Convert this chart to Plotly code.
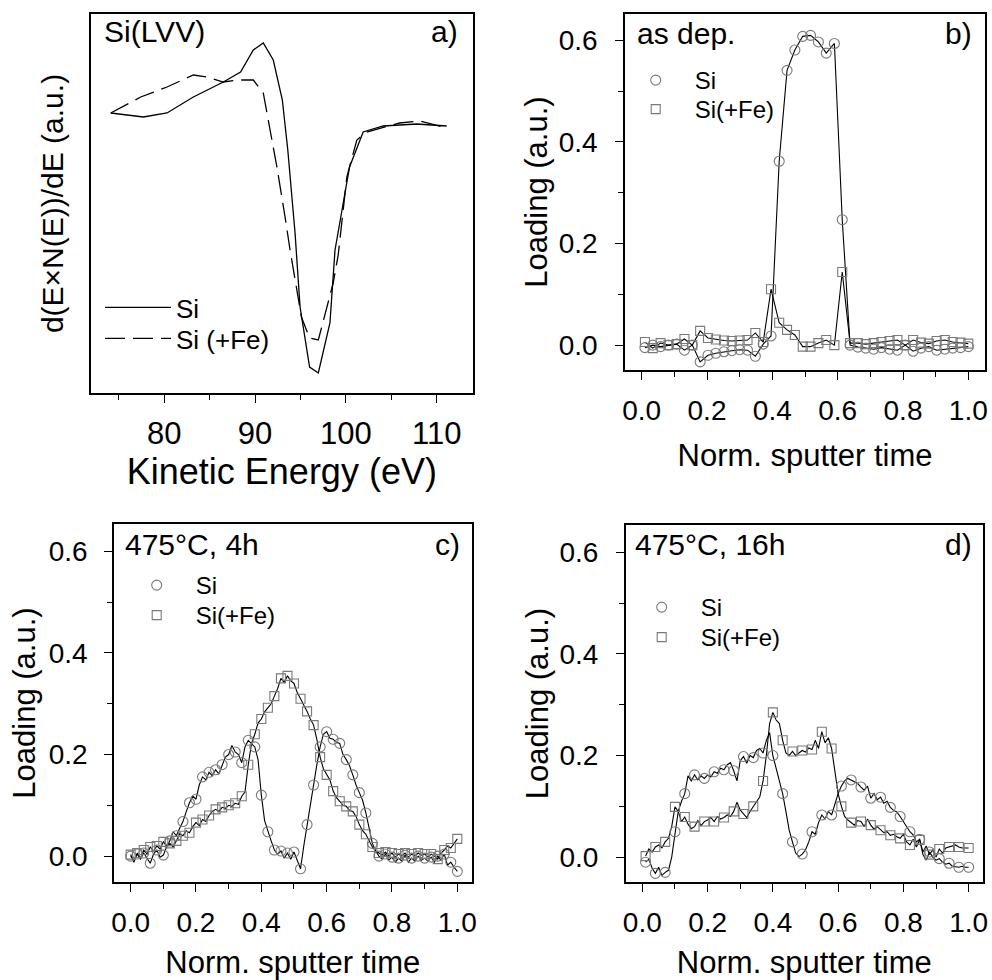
import plotly.graph_objects as go

# ---------------- data ----------------
# panel a: Auger Si(LVV) derivative spectra (arbitrary units)
a_si_E = [74.1, 77.7, 80.3, 83.2, 86.5, 88.4, 89.8, 90.9, 92.0, 93.0, 93.6, 94.4, 94.95, 96.0, 96.96, 98.24, 98.8, 100.4, 101.9, 104.1, 107.8, 111.1]
a_si_y = [2.80, 2.76, 2.80, 2.96, 3.11, 3.21, 3.43, 3.50, 3.33, 2.93, 2.43, 1.60, 0.86, 0.26, 0.20, 0.70, 1.43, 2.26, 2.61, 2.67, 2.69, 2.67]
a_fe_E = [74.1, 77.4, 80.3, 83.2, 84.7, 86.5, 88.0, 89.8, 90.9, 91.6, 92.4, 93.3, 93.85, 95.1, 96.0, 96.96, 98.6, 99.15, 100.1, 101.2, 102.3, 105.9, 108.1, 111.1]
a_fe_y = [2.80, 2.96, 3.06, 3.18, 3.16, 3.11, 3.13, 3.13, 3.00, 2.66, 2.26, 1.76, 1.43, 0.76, 0.55, 0.53, 1.10, 1.38, 2.16, 2.53, 2.61, 2.70, 2.72, 2.65]

# panel b: as deposited
b_t = [0.010, 0.034, 0.058, 0.082, 0.107, 0.131, 0.155, 0.179, 0.203, 0.227, 0.252, 0.276, 0.300, 0.324,
       0.348, 0.372, 0.396, 0.421, 0.445, 0.469, 0.493, 0.517, 0.541, 0.565, 0.590, 0.614, 0.638, 0.662,
       0.686, 0.710, 0.734, 0.759, 0.783, 0.807, 0.831, 0.855, 0.879, 0.903, 0.928, 0.952, 0.976, 1.000]
b_si = [-0.005, 0.000, -0.003, 0.000, 0.002, -0.010, 0.000, -0.033, -0.020, -0.016, -0.013, -0.011, -0.009, -0.010,
        -0.022, 0.002, 0.018, 0.362, 0.541, 0.581, 0.608, 0.610, 0.597, 0.575, 0.594, 0.247, 0.000, -0.004,
        -0.006, -0.008, -0.005, -0.008, -0.010, 0.000, -0.012, -0.006, -0.003, -0.010, -0.008, -0.006, -0.005, -0.003]
b_fe = [0.006, -0.006, 0.004, 0.000, 0.002, 0.012, 0.000, 0.028, 0.014, 0.011, 0.009, 0.008, 0.009, 0.010,
        0.024, 0.006, 0.110, 0.044, 0.030, 0.020, -0.003, -0.003, 0.004, 0.010, 0.000, 0.144, 0.004, 0.004,
        0.002, 0.004, 0.006, 0.008, 0.010, 0.000, 0.010, 0.005, 0.003, 0.008, 0.010, 0.006, 0.005, 0.003]

# panel c: 475 C, 4 h
c_t = [0.00, 0.01, 0.02, 0.03, 0.04, 0.05, 0.06, 0.07, 0.08, 0.09, 0.10, 0.11, 0.12, 0.13, 0.14, 0.15, 0.16,
       0.17, 0.18, 0.19, 0.20, 0.21, 0.22, 0.23, 0.24, 0.25, 0.26, 0.27, 0.28, 0.29, 0.30, 0.31, 0.32, 0.33,
       0.34, 0.35, 0.36, 0.37, 0.38, 0.39, 0.40, 0.41, 0.42, 0.43, 0.44, 0.45, 0.46, 0.47, 0.48, 0.49, 0.50,
       0.51, 0.52, 0.53, 0.54, 0.55, 0.56, 0.57, 0.58, 0.59, 0.60, 0.61, 0.62, 0.63, 0.64, 0.65, 0.66, 0.67,
       0.68, 0.69, 0.70, 0.71, 0.72, 0.73, 0.74, 0.75, 0.76, 0.77, 0.78, 0.79, 0.80, 0.81, 0.82, 0.83, 0.84,
       0.85, 0.86, 0.87, 0.88, 0.89, 0.90, 0.91, 0.92, 0.93, 0.94, 0.95, 0.96, 0.97, 0.98, 0.99, 1.00]
c_si = [0.000, -0.008, 0.004, -0.006, 0.006, -0.004, -0.014, 0.004, 0.012, -0.002, 0.002, 0.018, 0.030, 0.048,
        0.040, 0.055, 0.068, 0.087, 0.105, 0.118, 0.112, 0.140, 0.156, 0.150, 0.165, 0.158, 0.170, 0.162, 0.180,
        0.195, 0.200, 0.218, 0.205, 0.200, 0.184, 0.215, 0.228, 0.222, 0.215, 0.190, 0.120, 0.070, 0.048, 0.030,
        0.012, 0.004, 0.010, -0.004, 0.006, -0.006, 0.008, -0.008, -0.025, 0.020, 0.062, 0.100, 0.140, 0.180,
        0.215, 0.240, 0.245, 0.232, 0.230, 0.224, 0.222, 0.200, 0.190, 0.178, 0.160, 0.140, 0.125, 0.110, 0.085,
        0.055, 0.025, 0.010, 0.000, -0.006, 0.004, -0.008, -0.002, -0.012, -0.004, -0.010, 0.002, -0.012, -0.004,
        -0.010, 0.000, -0.008, -0.004, -0.010, -0.002, -0.012, 0.000, -0.008, 0.004, -0.018, -0.012, -0.022, -0.030]
c_fe = [0.003, -0.012, 0.006, -0.004, 0.012, 0.004, 0.018, 0.010, 0.020, 0.014, 0.028, 0.020, 0.025, 0.018,
        0.030, 0.044, 0.040, 0.050, 0.046, 0.058, 0.066, 0.060, 0.072, 0.068, 0.080, 0.088, 0.092, 0.088, 0.096,
        0.094, 0.100, 0.098, 0.104, 0.102, 0.118, 0.126, 0.180, 0.222, 0.240, 0.262, 0.270, 0.284, 0.292, 0.300,
        0.315, 0.330, 0.350, 0.342, 0.355, 0.345, 0.340, 0.322, 0.310, 0.298, 0.285, 0.270, 0.258, 0.230, 0.195,
        0.172, 0.160, 0.150, 0.128, 0.115, 0.108, 0.100, 0.098, 0.090, 0.088, 0.078, 0.062, 0.050, 0.043, 0.030,
        0.018, 0.010, 0.006, 0.002, 0.008, 0.000, 0.006, -0.002, 0.004, 0.000, 0.006, -0.002, 0.004, 0.000,
        0.006, 0.002, 0.004, -0.002, 0.004, 0.000, -0.006, 0.006, 0.012, 0.020, 0.016, 0.026, 0.034]

# panel d: 475 C, 16 h
d_t = [0.01, 0.02, 0.03, 0.04, 0.05, 0.06, 0.07, 0.08, 0.09, 0.10, 0.11, 0.12, 0.13, 0.14, 0.15, 0.16,
       0.17, 0.18, 0.19, 0.20, 0.21, 0.22, 0.23, 0.24, 0.25, 0.26, 0.27, 0.28, 0.29, 0.30, 0.31, 0.32, 0.33,
       0.34, 0.35, 0.36, 0.37, 0.38, 0.39, 0.40, 0.41, 0.42, 0.43, 0.44, 0.45, 0.46, 0.47, 0.48, 0.49, 0.50,
       0.51, 0.52, 0.53, 0.54, 0.55, 0.56, 0.57, 0.58, 0.59, 0.60, 0.61, 0.62, 0.63, 0.64, 0.65, 0.66, 0.67,
       0.68, 0.69, 0.70, 0.71, 0.72, 0.73, 0.74, 0.75, 0.76, 0.77, 0.78, 0.79, 0.80, 0.81, 0.82, 0.83, 0.84,
       0.85, 0.86, 0.87, 0.88, 0.89, 0.90, 0.91, 0.92, 0.93, 0.94, 0.95, 0.96, 0.97, 0.98, 0.99, 1.00]
d_si = [-0.010, -0.004, -0.022, -0.032, -0.020, -0.036, -0.030, -0.026, 0.000, 0.050, 0.090, 0.110, 0.125,
        0.160, 0.150, 0.162, 0.152, 0.160, 0.155, 0.162, 0.158, 0.168, 0.165, 0.175, 0.172, 0.182, 0.186, 0.170,
        0.150, 0.190, 0.198, 0.185, 0.200, 0.196, 0.210, 0.214, 0.205, 0.230, 0.245, 0.200, 0.175, 0.150, 0.125,
        0.090, 0.053, 0.030, 0.008, 0.001, 0.006, 0.014, 0.030, 0.050, 0.045, 0.068, 0.083, 0.075, 0.090, 0.083,
        0.105, 0.125, 0.140, 0.150, 0.155, 0.152, 0.148, 0.145, 0.138, 0.132, 0.140, 0.116, 0.125, 0.113, 0.118,
        0.106, 0.110, 0.098, 0.092, 0.089, 0.080, 0.070, 0.062, 0.050, 0.044, 0.030, 0.035, 0.005, -0.006, 0.010,
        0.000, -0.006, -0.003, -0.010, -0.014, -0.012, -0.018, -0.019, -0.020, -0.018, -0.020, -0.020]
d_fe = [0.002, 0.016, 0.010, 0.020, 0.024, 0.018, 0.030, 0.037, 0.060, 0.099, 0.090, 0.070, 0.079, 0.065,
        0.056, 0.060, 0.072, 0.062, 0.070, 0.073, 0.078, 0.070, 0.080, 0.075, 0.078, 0.083, 0.080, 0.090, 0.108,
        0.093, 0.085, 0.078, 0.090, 0.100, 0.110, 0.119, 0.150, 0.200, 0.263, 0.285, 0.270, 0.263, 0.230, 0.205,
        0.200, 0.208, 0.200, 0.205, 0.210, 0.207, 0.215, 0.212, 0.230, 0.214, 0.247, 0.225, 0.235, 0.214, 0.170,
        0.125, 0.100, 0.080, 0.073, 0.068, 0.063, 0.072, 0.070, 0.060, 0.075, 0.063, 0.055, 0.060, 0.053, 0.048,
        0.050, 0.043, 0.045, 0.040, 0.037, 0.045, 0.030, 0.024, 0.035, 0.020, 0.034, 0.010, 0.022, 0.005, 0.014,
        0.000, 0.016, 0.008, 0.018, 0.020, 0.022, 0.024, 0.020, 0.018, 0.018, 0.018]

x_ticks_t = [0.0, 0.2, 0.4, 0.6, 0.8, 1.0]
x_ticklabels_t = ["0.0", "0.2", "0.4", "0.6", "0.8", "1.0"]
y_ticks = [0.0, 0.2, 0.4, 0.6]
y_ticklabels = ["0.0", "0.2", "0.4", "0.6"]
e_ticks = [80, 90, 100, 110]
e_ticklabels = ["80", "90", "100", "110"]

# ---------------- style ----------------
FONT = "Liberation Sans, Arial, Helvetica, sans-serif"
MK = "#7a7a7a"
W, H = 992, 980


def px_x(p):
    return p / W


def px_y(p):
    return 1 - p / H


fig = go.Figure()

# panel a
fig.add_trace(go.Scatter(x=a_si_E, y=a_si_y, mode="lines", name="Si",
                         line=dict(color="black", width=1.3), xaxis="x", yaxis="y", legend="legend"))
fig.add_trace(go.Scatter(x=a_fe_E, y=a_fe_y, mode="lines", name="Si (+Fe)",
                         line=dict(color="black", width=1.3, dash="20px,8px"), xaxis="x", yaxis="y",
                         legend="legend2"))


def add_panel(t_si, v_si, t_fe, v_fe, xa, ya, leg_si, leg_fe, step):
    fig.add_trace(go.Scatter(x=t_si, y=v_si, mode="lines", line=dict(color="black", width=1.1),
                             showlegend=False, xaxis=xa, yaxis=ya, hoverinfo="skip"))
    fig.add_trace(go.Scatter(x=t_fe, y=v_fe, mode="lines", line=dict(color="black", width=1.1),
                             showlegend=False, xaxis=xa, yaxis=ya, hoverinfo="skip"))
    fig.add_trace(go.Scatter(x=t_si[::step], y=v_si[::step], mode="markers", name="Si",
                             marker=dict(symbol="circle-open", size=10, color=MK, line=dict(width=1.1, color=MK)),
                             xaxis=xa, yaxis=ya, legend=leg_si))
    fig.add_trace(go.Scatter(x=t_fe[::step], y=v_fe[::step], mode="markers", name="Si(+Fe)",
                             marker=dict(symbol="square-open", size=9, color=MK, line=dict(width=1.1, color=MK)),
                             xaxis=xa, yaxis=ya, legend=leg_fe))


add_panel(b_t, b_si, b_t, b_fe, "x2", "y2", "legend3", "legend4", 1)
add_panel(c_t, c_si, c_t, c_fe, "x3", "y3", "legend5", "legend6", 2)
add_panel(d_t, d_si, d_t, d_fe, "x4", "y4", "legend7", "legend8", 3)

axis_common = dict(showline=True, linecolor="black", linewidth=1.5, mirror=True, showgrid=False,
                   zeroline=False, ticks="outside", tickcolor="black", tickwidth=1.3, ticklen=8,
                   automargin=False)

tfont_bd = dict(family=FONT, size=28, color="black")
title_bd = dict(family=FONT, size=31, color="black")
minor_t = dict(dtick=0.1, tick0=0, ticks="outside", ticklen=5, tickcolor="black", tickwidth=1.2)


def leg(xp, yp, size, iw):
    return dict(x=px_x(xp), y=px_y(yp), xanchor="left", yanchor="top", bgcolor="rgba(0,0,0,0)",
                font=dict(family=FONT, size=size, color="black"), itemwidth=iw, borderwidth=0)


layout = dict(
    width=W, height=H, margin=dict(l=0, r=0, t=0, b=0, autoexpand=False),
    paper_bgcolor="white", plot_bgcolor="white", font=dict(family=FONT, color="black"),
    # panel a
    xaxis=dict(axis_common, domain=[px_x(91), px_x(472.7)], range=[71.93, 113.96], tickvals=e_ticks,
               ticktext=e_ticklabels, tickfont=dict(family=FONT, size=31, color="black"), ticklabelstandoff=4,
               minor=dict(dtick=5, tick0=75, ticks="outside", ticklen=5, tickcolor="black", tickwidth=1.2),
               title=dict(text="Kinetic Energy (eV)", font=dict(family=FONT, size=36, color="black"), standoff=6),
               anchor="y"),
    yaxis=dict(axis_common, domain=[px_y(393), px_y(14)], range=[0, 3.79], ticks="", showticklabels=False,
               title=dict(text="d(E×N(E))/dE (a.u.)", font=dict(family=FONT, size=30, color="black"), standoff=17),
               anchor="x"),
    # panel b
    xaxis2=dict(axis_common, domain=[px_x(625), px_x(985)], range=[-0.051, 1.051], tickvals=x_ticks_t,
                ticktext=x_ticklabels_t, tickfont=tfont_bd, minor=minor_t, ticklabelstandoff=7,
                title=dict(text="Norm. sputter time", font=title_bd, standoff=19), anchor="y2"),
    yaxis2=dict(axis_common, domain=[px_y(370), px_y(14)], range=[-0.049, 0.652], tickvals=y_ticks,
                ticktext=y_ticklabels, tickfont=tfont_bd, minor=minor_t, ticklabelstandoff=12,
                title=dict(text="Loading (a.u.)", font=title_bd, standoff=2), anchor="x2"),
    # panel c
    xaxis3=dict(axis_common, domain=[px_x(114), px_x(471.7)], range=[-0.051, 1.044], tickvals=x_ticks_t,
                ticktext=x_ticklabels_t, tickfont=tfont_bd, minor=minor_t, ticklabelstandoff=7,
                title=dict(text="Norm. sputter time", font=title_bd, standoff=14), anchor="y3"),
    yaxis3=dict(axis_common, domain=[px_y(882), px_y(524)], range=[-0.051, 0.654], tickvals=y_ticks,
                ticktext=y_ticklabels, tickfont=tfont_bd, minor=minor_t, ticklabelstandoff=11,
                title=dict(text="Loading (a.u.)", font=title_bd, standoff=4), anchor="x3"),
    # panel d
    xaxis4=dict(axis_common, domain=[px_x(625.7), px_x(983)], range=[-0.051, 1.044], tickvals=x_ticks_t,
                ticktext=x_ticklabels_t, tickfont=tfont_bd, minor=minor_t, ticklabelstandoff=7,
                title=dict(text="Norm. sputter time", font=title_bd, standoff=15), anchor="y4"),
    yaxis4=dict(axis_common, domain=[px_y(882), px_y(525)], range=[-0.049, 0.654], tickvals=y_ticks,
                ticktext=y_ticklabels, tickfont=tfont_bd, minor=minor_t, ticklabelstandoff=12,
                title=dict(text="Loading (a.u.)", font=title_bd, standoff=2), anchor="x4"),
    # legends (one entry each, placed inside the panels)
    legend=leg(100, 284, 26, 66),
    legend2=leg(100, 315, 26, 66),
    legend3=leg(616.7, 58, 24, 68),
    legend4=leg(616.7, 87, 24, 68),
    legend5=leg(117.7, 563, 24, 68),
    legend6=leg(117.7, 593, 24, 68),
    legend7=leg(622.7, 585, 24, 68),
    legend8=leg(622.7, 615, 24, 68),
)
fig.update_layout(**layout)

ann_font = dict(family=FONT, size=30, color="black")
labels = [
    ("Si(LVV)", px_x(102), px_y(32), "left"),
    ("a)", px_x(460), px_y(32), "right"),
    ("as dep.", px_x(635), px_y(34), "left"),
    ("b)", px_x(974), px_y(34), "right"),
    ("475°C, 4h", px_x(123), px_y(544), "left"),
    ("475°C, 16h", px_x(633), px_y(544), "left"),
    ("c)", px_x(462), px_y(544), "right"),
    ("d)", px_x(974), px_y(544), "right"),
]
for text, x, y, anc in labels:
    fig.add_annotation(text=text, x=x, y=y, xref="paper", yref="paper", xanchor=anc, yanchor="middle",
                       showarrow=False, font=ann_font)

# the page is exactly the figure: no default body margin, no scrollbars
page_js = "document.body.style.margin='0px';document.body.style.overflow='hidden';"
fig.write_html("out.html", post_script=page_js, config={"displayModeBar": False})
